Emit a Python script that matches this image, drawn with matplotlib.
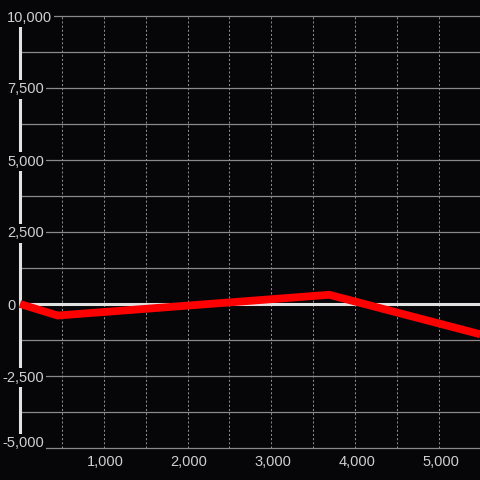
import matplotlib
matplotlib.use("Agg")
import matplotlib.pyplot as plt
import numpy as np

# ---- data ----
x_values = [0, 450, 3690, 5490]
y_values = [0, -400, 320, -1050]
x_ticks = [1000, 2000, 3000, 4000, 5000]
x_tick_labels = ["1,000", "2,000", "3,000", "4,000", "5,000"]
y_ticks = [-5000, -2500, 0, 2500, 5000, 7500, 10000]
y_tick_labels = ["-5,000", "-2,500", "0", "2,500", "5,000", "7,500", "10,000"]
y_grid = [-3750, -1250, 1250, 3750, 6250, 8750]
x_grid = [500, 1000, 1500, 2000, 2500, 3000, 3500, 4000, 4500, 5000]

BG = "#060608"
GRID = "#8a8a8a"
AXIS = "#e2e2e2"
TEXT = "#d0d0d0"
RED = "#ff0000"
FONT = "Liberation Sans"
FS = 10.5

fig = plt.figure(figsize=(4.8, 4.8), dpi=100, facecolor=BG)
W, H = 480, 480
ax = fig.add_axes([20 / W, 1 - 448 / H, 1 - 20 / W, (448 - 16) / H])
ax.set_facecolor(BG)
ax.set_xlim(0, 5490)
ax.set_ylim(-5000, 10000)
for s in ax.spines.values():
    s.set_visible(False)
ax.set_xticks([])
ax.set_yticks([])

# horizontal grid lines (solid)
for v in y_ticks + y_grid:
    if v == 0:
        continue
    ax.axhline(v, color=GRID, lw=0.9, zorder=1, clip_on=False)

# vertical dotted grid lines
for v in x_grid:
    ax.axvline(v, color=GRID, lw=0.75, ls=(0, (2, 2)), zorder=1)

# zero line and y axis line
ax.axhline(0, color=AXIS, lw=2.2, zorder=2, clip_on=False)
ax.axvline(0, color=AXIS, lw=2.2, zorder=2, clip_on=False)

# y labels (with background boxes covering lines)
for v, lab in zip(y_ticks, y_tick_labels):
    dx = -18 if v < 0 else -13
    dy = -5.5
    if v == y_ticks[0]:
        dy = 1
    ax.annotate(lab, xy=(0, v), xycoords="data", xytext=(dx, dy),
                textcoords="offset pixels", ha="left", va="baseline",
                color=TEXT, fontsize=FS, family=FONT, zorder=5,
                bbox=dict(boxstyle="square,pad=0.15", fc=BG, ec="none"),
                annotation_clip=False)

# x labels
for v, lab in zip(x_ticks, x_tick_labels):
    ax.annotate(lab, xy=(v, 0), xycoords=("data", "axes fraction"),
                xytext=(1.5, -17.7), textcoords="offset pixels",
                ha="center", va="baseline", color=TEXT, fontsize=FS,
                family=FONT, annotation_clip=False)

# data line
ax.plot(x_values, y_values, color=RED, lw=5.6, zorder=6, clip_on=False,
        solid_capstyle="butt", solid_joinstyle="miter")

fig.savefig("out.png", dpi=100, facecolor=BG)
